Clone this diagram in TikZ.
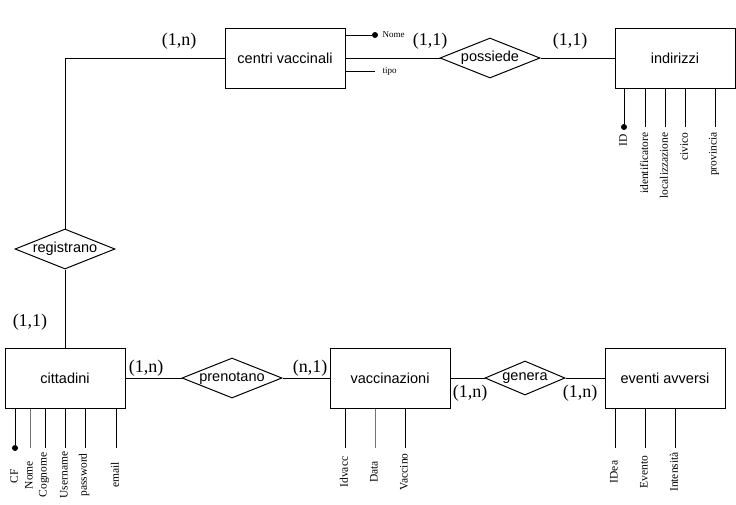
\documentclass[tikz,border=0pt]{standalone}
\usepackage{fontspec}
\setmainfont{Liberation Serif}
\setsansfont{Liberation Sans}
\usetikzlibrary{shapes.geometric}
\tikzset{>=latex}
\tikzset{
  entity/.style={draw,rectangle,minimum width=120,minimum height=60,
    font=\sffamily\fontsize{14.5}{17}\selectfont},
  relation/.style={draw,diamond,aspect=2.5,inner sep=0pt,minimum width=100,
    minimum height=40,font=\sffamily\fontsize{14.5}{17}\selectfont},
  card/.style={font=\fontsize{18}{20}\selectfont,inner sep=0pt},
  attr/.style={rotate=90,font=\fontsize{11.5}{12}\selectfont,inner sep=0pt},
  small/.style={font=\fontsize{9}{10}\selectfont,inner sep=0pt},
  keydot/.style={circle,fill,inner sep=0pt,minimum size=6},
}

\begin{document}
\begin{tikzpicture}[x=1pt,y=-1pt,line width=1pt]
      \useasboundingbox (0,0) rectangle (736,504);

      % entities
      \node [entity] (centri) at (285,58) {centri vaccinali};
      \node [entity] (indirizzi) at (675,58) {indirizzi};
      \node [entity] (cittadini) at (65,378) {cittadini};
      \node [entity] (vaccinazioni) at (390,378) {vaccinazioni};
      \node [entity] (eventi) at (665,378) {eventi avversi};

      % relations
      \node [relation] (possiede) at (490,58) {possiede};
      \node [relation] (registrano) at (65,249) {registrano};
      \node [relation] (prenotano) at (232,378) {prenotano};
      \node [relation,minimum width=80,minimum height=34,aspect=2.35]
      (genera) at (525,378) {genera};

      % links
      \coordinate (bend) at (65,58);
      \draw (centri.west) -- (bend) -- (registrano.north);
      \draw (registrano.south) -- (cittadini.north);
      \draw (centri.east) -- (possiede.west);
      \draw (possiede.east) -- (indirizzi.west);
      \draw (cittadini.east) -- (prenotano.west);
      \draw (prenotano.east) -- (vaccinazioni.west);
      \draw (vaccinazioni.east) -- (genera.west);
      \draw (genera.east) -- (eventi.west);

      % cardinalities
      \node [card] (c1) at (179,41) {(1,n)};
      \node [card] (c2) at (430,41) {(1,1)};
      \node [card] (c3) at (570,41) {(1,1)};
      \node [card] (c4) at (30,322) {(1,1)};
      \node [card] (c5) at (146,368) {(1,n)};
      \node [card] (c6) at (310,368) {(n,1)};
      \node [card] (c7) at (470,393) {(1,n)};
      \node [card] (c8) at (580,393) {(1,n)};

      % attributes of centri vaccinali
      \node [keydot] (nomecv) at (375,35) {};
      \draw (centri.east |- nomecv) -- (nomecv);
      \node [small,anchor=south west] at (382,38) {Nome};
      \coordinate (tipocv) at (375,71);
      \draw (centri.east |- tipocv) -- (tipocv);
      \node [small,anchor=south west] at (382,76) {tipo};

      % attributes of indirizzi
      \node [keydot] (idind) at (624,127) {};
      \draw (indirizzi.south -| idind) -- (idind);
      \node [attr,anchor=east] at (623,134) {ID};
      \foreach \x/\name in {645/identificatore,665/localizzazione,685/civico,715/provincia} {
        \coordinate (a\x) at (\x,127);
        \draw (indirizzi.south -| a\x) -- (a\x);
        \node [attr,anchor=east] at (\x-1,132) {\name};
      }

      % attributes of cittadini
      \node [keydot] (cf) at (15,448) {};
      \draw (cittadini.south -| cf) -- (cf);
      \node [attr] at (14,476) {CF};
      \coordinate (nomec) at (30,448);
      \draw [black!55] (cittadini.south -| nomec) -- (nomec);
      \node [attr] at (29,475) {Nome};
      \foreach \x/\name in {45/Cognome,65/Username,85/password,116/email} {
        \coordinate (b\x) at (\x,448);
        \draw (cittadini.south -| b\x) -- (b\x);
        \node [attr] at (\x-1,475) {\name};
      }

      % attributes of vaccinazioni
      \foreach \x/\name/\col in {345/Idvacc/black,375/Data/black!55,405/Vaccino/black} {
        \coordinate (v\x) at (\x,448);
        \draw [\col] (vaccinazioni.south -| v\x) -- (v\x);
        \node [attr] at (\x-1,472) {\name};
      }

      % attributes of eventi avversi
      \foreach \x/\name in {615/IDea,645/Evento,675/Intensità} {
        \coordinate (e\x) at (\x,448);
        \draw (eventi.south -| e\x) -- (e\x);
        \node [attr] at (\x-1,472) {\name};
      }
  \end{tikzpicture}
\end{document}
